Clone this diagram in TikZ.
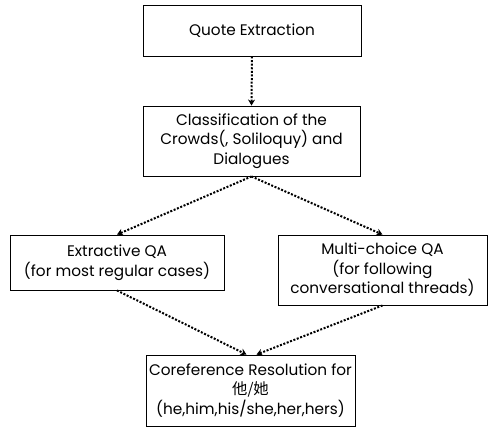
\documentclass[tikz,border=0pt]{standalone}
\usepackage{fontspec}
\setmainfont{Poppins}
\newfontfamily\cjk{Noto Sans CJK SC}
\usetikzlibrary{arrows.meta,positioning}
\tikzset{
    >={Stealth[length=6pt,width=7pt]},
    stagebox/.style={draw,line width=0.9pt,align=center,inner sep=2pt,
        font=\fontsize{15.3}{19.5}\selectfont},
    flow/.style={->,line width=2pt,dash pattern=on 2pt off 1.6pt}
}
\begin{document}
\begin{tikzpicture}[x=1pt,y=-1pt]
    \useasboundingbox (0,0) rectangle (490,426);

    % stages
    \node[stagebox,minimum width=218pt,minimum height=51pt] (quote) at (252,30.5) {Quote Extraction};
    \node[stagebox,minimum width=217pt,minimum height=70pt] (classify) at (251.5,141)
        {Classification of the\\Crowds(, Soliloquy) and\\Dialogues};
    \node[stagebox,minimum width=214pt,minimum height=55pt] (extractive) at (117,262.5)
        {Extractive QA\\(for most regular cases)};
    \node[stagebox,minimum width=209pt,minimum height=70pt] (multichoice) at (382.5,270)
        {Multi-choice QA\\(for following\\conversational threads)};
    \node[stagebox,minimum width=209pt,minimum height=71pt] (coref) at (250.5,390.5)
        {Coreference Resolution for\\{\cjk 他/她}\\(he,him,his/she,her,hers)};

    % connectors
    \draw[flow] (quote.south) -- (classify.north);
    \draw[flow] (classify.south) -- (extractive.north);
    \draw[flow] (classify.south) -- (multichoice.north);
    \draw[flow] (extractive.south) -- ([xshift=-4pt]coref.north);
    \draw[flow] (multichoice.south) -- ([xshift=6pt]coref.north);
\end{tikzpicture}
\end{document}
